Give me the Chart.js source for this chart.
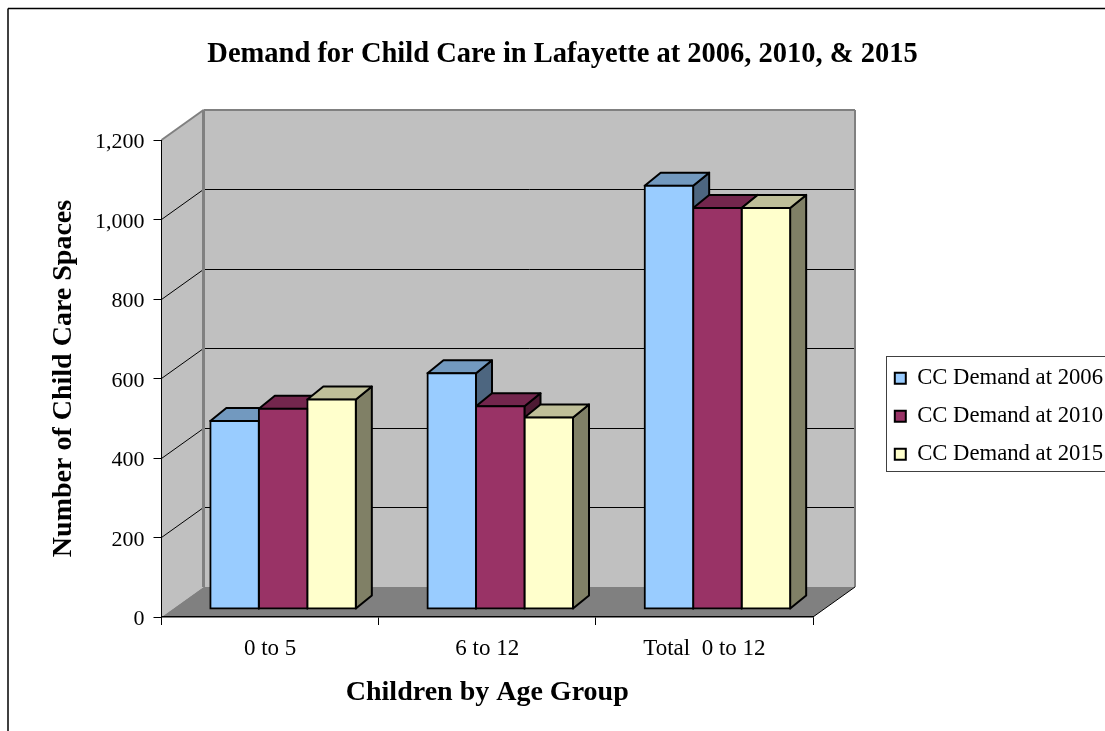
<!DOCTYPE html>
<html>
<head>
<meta charset="utf-8">
<title>Demand for Child Care in Lafayette</title>
<script src="https://cdn.jsdelivr.net/npm/chart.js@4"></script>
<style>
    html, body { margin: 0; padding: 0; background: #fff; overflow: hidden; }
    canvas { display: block; }
</style>
</head>
<body>
<canvas id="grafico" width="1105" height="731"></canvas>
<script>
const categorias = ['0 to 5', '6 to 12', 'Total  0 to 12'];
const nombresSeries = ['CC Demand at 2006', 'CC Demand at 2010', 'CC Demand at 2015'];
const demanda2006 = [473, 593, 1065];
const demanda2010 = [504, 510, 1009];
const demanda2015 = [527, 482, 1009];
const colores = ['#99CCFF', '#993366', '#FFFFCC'];
const coloresArriba = ['#7299BF', '#73264D', '#BFBF99'];
const coloresLado = ['#4D6680', '#4D1A33', '#808066'];

const fuente = 'Liberation Serif';

// profundidad del "3D": pared del fondo y barras
const fondoX = 42, fondoY = -30;
const barraDx = 13, barraDy = -8;
const ladoX = 16, ladoY = -13;

function poligono(ctx, puntos, relleno, borde, grosor) {
    ctx.beginPath();
    ctx.moveTo(puntos[0][0], puntos[0][1]);
    for (let i = 1; i < puntos.length; i++) {
        ctx.lineTo(puntos[i][0], puntos[i][1]);
    }
    ctx.closePath();
    if (relleno) {
        ctx.fillStyle = relleno;
        ctx.fill();
    }
    if (borde) {
        ctx.strokeStyle = borde;
        ctx.lineWidth = grosor;
        ctx.lineJoin = 'round';
        ctx.stroke();
    }
}

function linea(ctx, x1, y1, x2, y2, color, grosor) {
    ctx.beginPath();
    ctx.moveTo(x1, y1);
    ctx.lineTo(x2, y2);
    ctx.strokeStyle = color;
    ctx.lineWidth = grosor;
    ctx.stroke();
}

const plugin3d = {
    id: 'plugin3d',
    beforeLayout(chart) {
        // la leyenda ocupa todo el margen derecho, asi queda hueco hasta el area
        const leyenda = chart.legend;
        if (leyenda && !leyenda.fitOriginal) {
            leyenda.fitOriginal = leyenda.fit;
            leyenda.fit = function () {
                this.fitOriginal();
                this.width = 292;
            };
        }
        // las etiquetas del eje y van un poco mas abajo que su marca
        const ejeY = chart.scales.y;
        if (ejeY && !ejeY.drawLabelsOriginal) {
            ejeY.drawLabelsOriginal = ejeY.drawLabels;
            ejeY.drawLabels = function (area) {
                this.ctx.save();
                this.ctx.translate(0, 2.5);
                this.drawLabelsOriginal(area);
                this.ctx.restore();
            };
        }
    },
    afterLayout(chart) {
        chart.legend.left = 879.5;
        chart.legend.top = 351.5;
    },
    beforeDraw(chart) {
        const ctx = chart.ctx;
        const a = chart.chartArea;
        const y = chart.scales.y;
        ctx.save();

        // marco exterior
        linea(ctx, 8, 8.5, 1105, 8.5, '#000', 1.5);
        linea(ctx, 8, 8.5, 8, 731, '#000', 1.5);

        const fx = a.left + fondoX, ft = a.top + fondoY, fb = a.bottom + fondoY, fr = a.right + fondoX;

        // pared lateral y fondo
        poligono(ctx, [[a.left, a.top], [fx, ft], [fx, fb], [a.left, a.bottom]], '#C0C0C0');
        ctx.fillStyle = '#C0C0C0';
        ctx.fillRect(fx, ft, fr - fx, fb - ft);

        // suelo
        poligono(ctx, [[a.left, a.bottom], [fx, fb], [fr, fb], [a.right, a.bottom]], '#808080');

        // rejilla sobre las paredes
        y.ticks.forEach(function (t) {
            if (t.value === 0 || t.value === y.max) return;
            const py = Math.floor(y.getPixelForValue(t.value)) + 0.5;
            linea(ctx, a.left, py, fx, py + fondoY, '#000', 1);
            linea(ctx, fx, py + fondoY, fr, py + fondoY, '#000', 1);
        });

        // bordes grises de las paredes
        linea(ctx, a.left, a.top, fx, ft, '#808080', 2);
        linea(ctx, fx, ft, fr, ft, '#808080', 2);
        linea(ctx, fx, ft, fx, fb, '#808080', 3);
        linea(ctx, fr, ft, fr, fb, '#808080', 2);
        linea(ctx, a.right, a.bottom, fr, fb, '#000', 1);

        ctx.restore();
    },
    beforeDatasetsDraw(chart) {
        const ctx = chart.ctx;
        ctx.save();
        ctx.translate(barraDx, barraDy);
        chart.data.datasets.forEach(function (ds, i) {
            chart.getDatasetMeta(i).data.forEach(function (barra) {
                const p = barra.getProps(['x', 'y', 'base', 'width']);
                const izq = p.x - p.width / 2, der = p.x + p.width / 2;
                poligono(ctx, [[der, p.y], [der + ladoX, p.y + ladoY], [der + ladoX, p.base + ladoY], [der, p.base]],
                    coloresLado[i], '#000', 2);
                poligono(ctx, [[izq, p.y], [izq + ladoX, p.y + ladoY], [der + ladoX, p.y + ladoY], [der, p.y]],
                    coloresArriba[i], '#000', 2);
            });
        });
    },
    afterDatasetsDraw(chart) {
        chart.ctx.restore();
    },
    afterDraw(chart) {
        const ctx = chart.ctx;
        ctx.save();
        ctx.strokeStyle = '#404040';
        ctx.lineWidth = 1;
        ctx.strokeRect(886.5, 356.5, 230, 115);
        ctx.restore();
    }
};

const grafico = new Chart(document.getElementById('grafico'), {
    type: 'bar',
    data: {
        labels: categorias,
        datasets: [
            { label: nombresSeries[0], data: demanda2006, backgroundColor: colores[0] },
            { label: nombresSeries[1], data: demanda2010, backgroundColor: colores[1] },
            { label: nombresSeries[2], data: demanda2015, backgroundColor: colores[2] }
        ]
    },
    options: {
        responsive: false,
        animation: false,
        layout: { padding: { left: 20, right: 0, top: 0, bottom: 0 } },
        datasets: {
            bar: {
                barPercentage: 1,
                categoryPercentage: 0.67,
                borderColor: '#000',
                borderWidth: 2,
                borderSkipped: false,
                inflateAmount: 1,
                clip: false
            }
        },
        plugins: {
            tooltip: { enabled: false },
            title: {
                display: true,
                text: 'Demand for Child Care in Lafayette at 2006, 2010, & 2015',
                color: '#000',
                font: { family: fuente, size: 28.5, weight: 'bold' },
                padding: { top: 37.5, bottom: 68.3 }
            },
            legend: {
                position: 'right',
                align: 'start',
                labels: {
                    color: '#000',
                    boxWidth: 11,
                    boxHeight: 11,
                    padding: 15.3,
                    font: { family: fuente, size: 22.7 }
                }
            }
        },
        scales: {
            x: {
                afterFit(scale) { scale.height = 114; },
                border: { color: '#000', width: 1.5 },
                grid: { drawOnChartArea: false, color: '#000', tickLength: 8 },
                ticks: { color: '#000', padding: 10, maxRotation: 0, font: { family: fuente, size: 23 } },
                title: {
                    display: true,
                    text: 'Children by Age Group',
                    color: '#000',
                    font: { family: fuente, size: 28, weight: 'bold' },
                    padding: { top: 21.8, bottom: 21.8 }
                }
            },
            y: {
                min: 0,
                max: 1200,
                afterFit(scale) { scale.width = 141.5; },
                border: { color: '#000', width: 1 },
                grid: { drawOnChartArea: false, color: '#000', tickLength: 8 },
                ticks: { stepSize: 200, color: '#000', padding: 9, font: { family: fuente, size: 22 } },
                title: {
                    display: true,
                    text: 'Number of Child Care Spaces',
                    color: '#000',
                    font: { family: fuente, size: 28, weight: 'bold' },
                    padding: { top: 26.8, bottom: 26.8 }
                }
            }
        }
    },
    plugins: [plugin3d]
});
</script>
</body>
</html>
